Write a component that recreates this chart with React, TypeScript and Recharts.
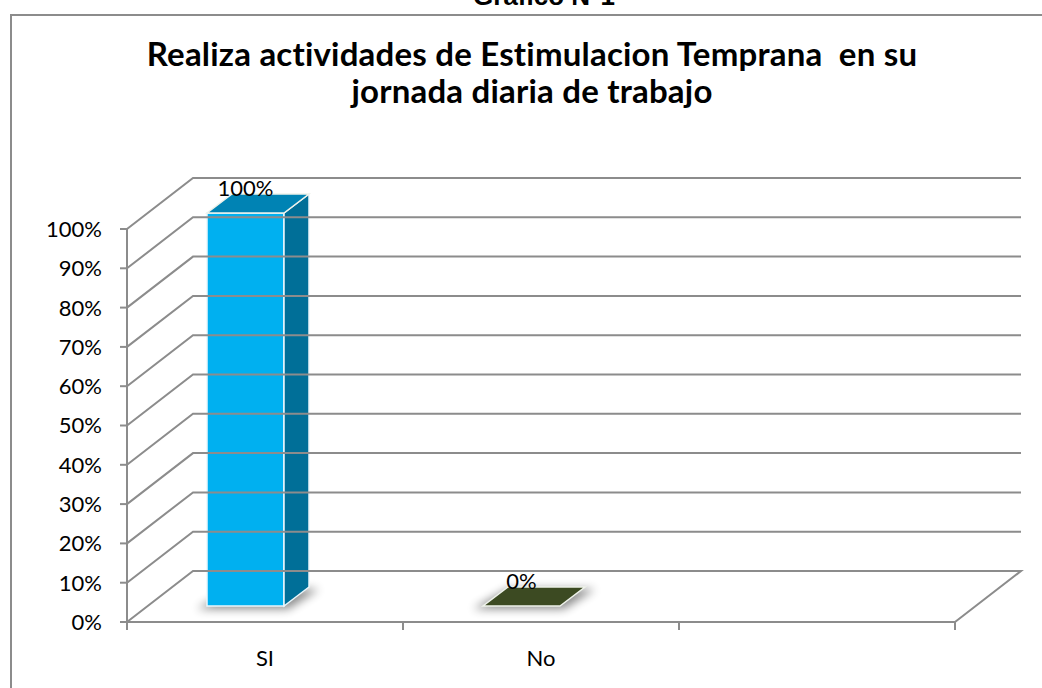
import { BarChart, Bar, XAxis, YAxis } from "recharts";

const CATEGORIAS = ["SI", "No", ""];
const VALORES = [100, 0, null];
const TICKS_Y = [0, 10, 20, 30, 40, 50, 60, 70, 80, 90, 100];

// colores por barra: frente, arriba, lado
const FRENTE = ["#00B0F0", "#3C4A22", "#3C4A22"];
const ARRIBA = ["#0083B4", "#3C4A22", "#3C4A22"];
const LADO = ["#006F98", "#2E3A19", "#2E3A19"];

const W = 1042;
const H = 688;
const M_LEFT = 67;
const Y_W = 60;
const M_TOP = 229;
const M_RIGHT = 87;
const X_H = 30;
const M_BOTTOM = 36;
const PLOT_L = M_LEFT + Y_W;
const PLOT_R = W - M_RIGHT;
const PLOT_B = H - M_BOTTOM - X_H;
const BAND = (PLOT_R - PLOT_L) / CATEGORIAS.length;

// profundidad de la pared del fondo
const DX = 66;
const DY = 51;
// caja de la barra
const BAR_SHIFT = -20;
const BAR_LIFT = 16;
const BDX = 25;
const BDY = 19;

const GRIS = "#8c8c8c";
const FUENTE = "Lato, 'Open Sans', sans-serif";

const data = CATEGORIAS.map((cat, i) => ({ cat, valor: VALORES[i] }));

function TickY(props: any) {
  const { y, payload } = props;
  const esCero = payload.value === 0;
  return (
    <g>
      <polyline
        points={`${PLOT_L},${y} ${PLOT_L + DX},${y - DY} ${PLOT_R + DX},${y - DY}${
          esCero ? ` ${PLOT_R},${y}` : ""
        }`}
        fill="none"
        stroke={GRIS}
        strokeWidth={2}
      />
      <text
        x={102}
        y={y}
        dy="0.36em"
        textAnchor="end"
        fontSize={22}
        fontFamily={FUENTE}
        fill="#000"
      >
        {payload.value}%
      </text>
    </g>
  );
}

function TickX(props: any) {
  const { x, payload, index } = props;
  const izq = x - BAND / 2;
  return (
    <g>
      <line x1={izq} y1={PLOT_B} x2={izq} y2={PLOT_B + 8} stroke={GRIS} strokeWidth={2} />
      {index === CATEGORIAS.length - 1 && (
        <line
          x1={x + BAND / 2}
          y1={PLOT_B}
          x2={x + BAND / 2}
          y2={PLOT_B + 8}
          stroke={GRIS}
          strokeWidth={2}
        />
      )}
      <text
        x={x}
        y={PLOT_B + 44}
        textAnchor="middle"
        fontSize={22}
        fontFamily={FUENTE}
        fill="#000"
      >
        {payload.value}
      </text>
    </g>
  );
}

function Caja(props: any) {
  const { x, y, width, height, index, value } = props;
  if (value == null) return <g />;
  const fx = x + BAR_SHIFT;
  const top = y - BAR_LIFT;
  const bot = y + height - BAR_LIFT;
  const r = fx + width;
  const id = `sombra-${index}`;
  return (
    <g>
      <defs>
        <filter id={id} x="-50%" y="-200%" width="200%" height="500%">
          <feGaussianBlur stdDeviation={5} />
        </filter>
      </defs>
      <polygon
        points={`${fx - 10},${bot + 3} ${r + 4},${bot + 3} ${r + BDX + 10},${bot - BDY + 2} ${fx + BDX},${bot - BDY + 2}`}
        fill="#000"
        opacity={0.45}
        filter={`url(#${id})`}
      />
      {height > 0 && (
        <>
          <rect x={fx} y={top} width={width} height={height} fill={FRENTE[index]} stroke="#eaf6fb" strokeWidth={1.5} />
          <polygon
            points={`${r},${top} ${r + BDX},${top - BDY} ${r + BDX},${bot - BDY} ${r},${bot}`}
            fill={LADO[index]}
            stroke="#eaf6fb"
            strokeWidth={1.5}
          />
        </>
      )}
      <polygon
        points={`${fx},${top} ${r},${top} ${r + BDX},${top - BDY} ${fx + BDX},${top - BDY}`}
        fill={height > 0 ? ARRIBA[index] : FRENTE[index]}
        stroke="#eef2ea"
        strokeWidth={1.5}
      />
      <text
        x={fx + width / 2}
        y={top - 17}
        textAnchor="middle"
        fontSize={22}
        fontFamily={FUENTE}
        fill="#000"
      >
        {value}%
      </text>
    </g>
  );
}

export default function App() {
  return (
    <div style={{ position: "absolute", left: 0, top: 0, width: W, height: H, overflow: "hidden", background: "#fff" }}>
      <div
        style={{
          position: "absolute",
          left: 10,
          top: 14,
          width: W,
          height: H,
          borderTop: `2px solid ${GRIS}`,
          borderLeft: `2px solid ${GRIS}`,
        }}
      />
      <div
        style={{
          position: "absolute",
          left: 344,
          top: -17,
          width: 400,
          textAlign: "center",
          fontFamily: "'Liberation Sans', Arial, sans-serif",
          fontWeight: 700,
          fontSize: 26,
          lineHeight: "26px",
        }}
      >
        Gráfico N°1
      </div>
      <div
        style={{
          position: "absolute",
          left: 22,
          top: 35,
          width: 1020,
          textAlign: "center",
          fontFamily: FUENTE,
          fontWeight: 700,
          fontSize: 33,
          letterSpacing: 0.2,
          lineHeight: "37px",
          whiteSpace: "pre",
        }}
      >
        {"Realiza actividades de Estimulacion Temprana  en su"}
        <br />
        {"jornada diaria de trabajo"}
      </div>
      <BarChart
        width={W}
        height={H}
        data={data}
        margin={{ top: M_TOP, right: M_RIGHT, bottom: M_BOTTOM, left: M_LEFT }}
        style={{ position: "absolute", left: 0, top: 0 }}
      >
        <YAxis
          type="number"
          domain={[0, 100]}
          ticks={TICKS_Y}
          width={Y_W}
          axisLine={{ stroke: GRIS, strokeWidth: 2 }}
          tickLine={{ stroke: GRIS, strokeWidth: 2 }}
          tickSize={7}
          tick={<TickY />}
          interval={0}
        />
        <XAxis
          dataKey="cat"
          height={X_H}
          axisLine={{ stroke: GRIS, strokeWidth: 2 }}
          tickLine={false}
          tick={<TickX />}
          interval={0}
        />
        <Bar dataKey="valor" barSize={77} shape={<Caja />} isAnimationActive={false} />
      </BarChart>
    </div>
  );
}
